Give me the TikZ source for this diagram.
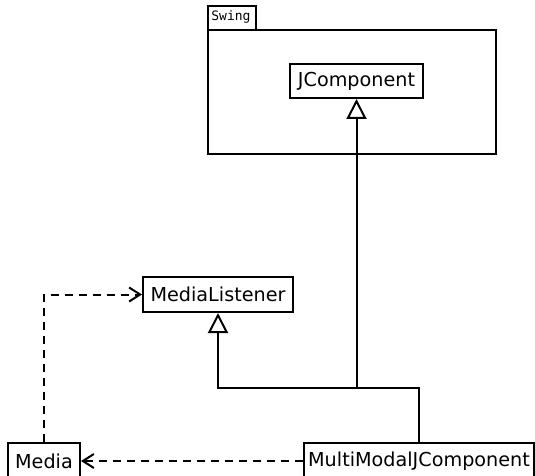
\documentclass[tikz,border=0pt]{standalone}
\usepackage{fontspec}
\setmainfont{DejaVu Sans}
\setmonofont{DejaVu Sans Mono}
\usetikzlibrary{arrows.meta}
\tikzset{
  cls/.style={draw,line width=1pt,fill=white,inner sep=0pt,font=\fontsize{9.6}{11}\selectfont},
  gen/.style={line width=1pt,-{Triangle[open,length=10pt,width=10pt,fill=white]}},
  dep/.style={line width=1pt,dash pattern=on 4pt off 3pt,-{Straight Barb[length=5.5pt,width=7pt,line width=1pt]}},
  pkg/.style={draw,line width=1pt}
}
\begin{document}
\begin{tikzpicture}[x=0.5pt,y=-0.5pt]
                \useasboundingbox (0,0) rectangle (535,476);
                % package Swing
                \draw[pkg] (208,6) rectangle (256,30);
                \draw[pkg] (208,30) rectangle (496,154);
                \node[anchor=north west,inner sep=1.5pt,font=\ttfamily\fontsize{6.5}{7}\selectfont] (swing) at (208,7) {Swing};
                % classes
                \node[cls,minimum width=66.5pt,minimum height=17pt] (jcomp) at (356.5,81) {JComponent};
                \node[cls,minimum width=75pt,minimum height=17.5pt] (mlist) at (218,294.5) {MediaListener};
                \node[cls,minimum width=36pt,minimum height=18pt] (media) at (44,461) {Media};
                \node[cls,minimum width=115pt,minimum height=18.5pt] (mmjc) at (419,461) {MultiModalJComponent};
                \coordinate (split) at (mmjc.north |- 0,388);
                % relations
                \draw[gen] (mmjc.north) -- (split) -| (mlist.south);
                \draw[gen] (jcomp.south |- split) -- (jcomp.south);
                \draw[dep] (mmjc.west) -- (media.east);
                \draw[dep] (media.north) |- (mlist.west);
            \end{tikzpicture}
\end{document}
